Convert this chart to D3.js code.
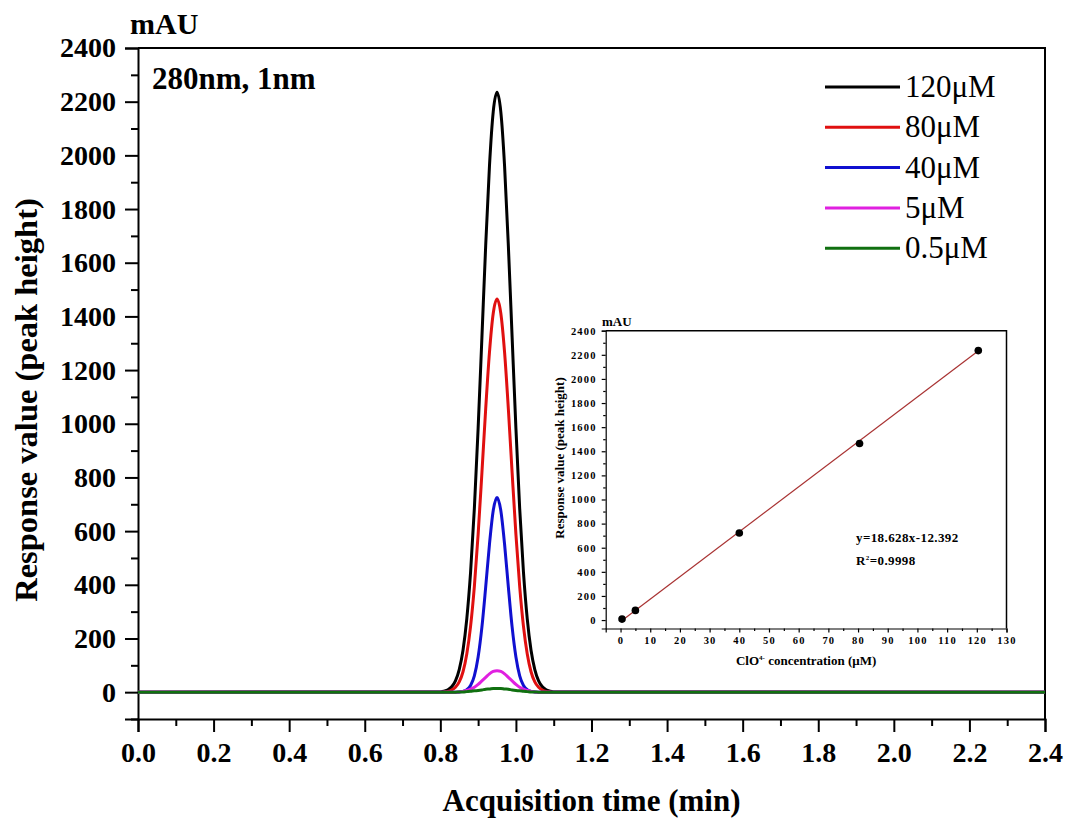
<!DOCTYPE html>
<html>
<head>
<meta charset="utf-8">
<script src="https://cdn.jsdelivr.net/npm/d3@7"></script>
<style>
  body { margin: 0; background: #fff; }
  svg { font-family: "Liberation Serif", "Times New Roman", serif; }
  .tk text { font-weight: bold; }
</style>
</head>
<body>
<svg id="chart" width="1069" height="818"></svg>
<script>
// chromatogram samples (min)
var times = [0, 0.80, 0.81, 0.82, 0.83, 0.84, 0.85, 0.86, 0.87, 0.88, 0.89, 0.90, 0.91, 0.92, 0.93, 0.94,
    0.95, 0.96, 0.97, 0.98, 0.99, 1.00, 1.01, 1.02, 1.03, 1.04, 1.05, 1.06, 1.07, 1.08, 1.09, 1.10, 2.40];

var s120 = [0, 1, 4, 9, 20, 42, 84, 156, 273, 446, 684, 983, 1321, 1663, 1960, 2163,
    2235, 2163, 1960, 1663, 1321, 983, 684, 446, 273, 156, 84, 42, 20, 9, 4, 1, 0];
var s80 = [0, 0, 1, 3, 8, 18, 38, 76, 142, 245, 393, 588, 817, 1055, 1266, 1412,
    1465, 1412, 1266, 1055, 817, 588, 393, 245, 142, 76, 38, 18, 8, 3, 1, 0, 0];
var s40 = [0, 0, 0, 0, 0, 0, 1, 3, 9, 25, 61, 131, 242, 391, 551, 677,
    725, 677, 551, 391, 242, 131, 61, 25, 9, 3, 1, 0, 0, 0, 0, 0, 0];
var s5 = [0, 0, 0, 0, 0, 0, 1, 3, 6, 11, 18, 29, 42, 55, 68, 77,
    80, 77, 68, 55, 42, 29, 18, 11, 6, 3, 1, 0, 0, 0, 0, 0, 0];
var s05 = [0, 0, 0, 0, 0, 0, 1, 1, 2, 3, 5, 6, 8, 11, 12, 14,
    14, 14, 12, 11, 8, 6, 5, 3, 2, 1, 1, 0, 0, 0, 0, 0, 0];

var seriesNames = ["120\u03bcM", "80\u03bcM", "40\u03bcM", "5\u03bcM", "0.5\u03bcM"];
var seriesData = [s120, s80, s40, s5, s05];
var seriesColors = ["#000000", "#e01010", "#1010d0", "#e020e0", "#107010"];

var xTicks = [0, 0.2, 0.4, 0.6, 0.8, 1.0, 1.2, 1.4, 1.6, 1.8, 2.0, 2.2, 2.4];
var xMinor = [0.1, 0.3, 0.5, 0.7, 0.9, 1.1, 1.3, 1.5, 1.7, 1.9, 2.1, 2.3];
var yTicks = [0, 200, 400, 600, 800, 1000, 1200, 1400, 1600, 1800, 2000, 2200, 2400];
var yMinor = [-100, 100, 300, 500, 700, 900, 1100, 1300, 1500, 1700, 1900, 2100, 2300];

// calibration inset
var concs = [0.5, 5, 40, 80.5, 120.5];
var peakHeights = [8, 80, 722, 1465, 2235];
var fitSlope = 18.628, fitIntercept = -12.392;
var fitRange = [1.5, 121];
var insetXTicks = [0, 10, 20, 30, 40, 50, 60, 70, 80, 90, 100, 110, 120, 130];
var insetXMinor = [5, 15, 25, 35, 45, 55, 65, 75, 85, 95, 105, 115, 125];
var insetYTicks = [0, 200, 400, 600, 800, 1000, 1200, 1400, 1600, 1800, 2000, 2200, 2400];
var insetYMinor = [100, 300, 500, 700, 900, 1100, 1300, 1500, 1700, 1900, 2100, 2300];

var svg = d3.select("#chart");
var serif = "Liberation Serif, Times New Roman, serif";

// ---------- main chart ----------
var L = 138, R = 1045, T = 48, B = 719;
var x = d3.scaleLinear().domain([0, 2.4]).range([L, R]);
var y = d3.scaleLinear().domain([-100, 2400]).range([B, T]);

function styleAxis(g, size, width) {
    g.attr("font-family", serif);
    g.select(".domain").attr("stroke", "#000").attr("stroke-width", width);
    g.selectAll(".tick line").attr("stroke", "#000").attr("stroke-width", width);
    g.selectAll("text").attr("font-size", size).attr("fill", "#000");
}

var gx = svg.append("g").attr("class", "tk").attr("transform", "translate(0," + B + ")")
    .call(d3.axisBottom(x).tickValues(xTicks).tickSize(13).tickPadding(10).tickFormat(d3.format(".1f")));
styleAxis(gx, 28, 2);
var gxm = svg.append("g").attr("transform", "translate(0," + B + ")")
    .call(d3.axisBottom(x).tickValues(xMinor).tickSize(7).tickFormat(""));
styleAxis(gxm, 28, 2);
gxm.select(".domain").remove();

var gy = svg.append("g").attr("class", "tk").attr("transform", "translate(" + L + ",0)")
    .call(d3.axisLeft(y).tickValues(yTicks).tickSize(13).tickPadding(9).tickFormat(d3.format("d")));
styleAxis(gy, 28, 2);
var gym = svg.append("g").attr("transform", "translate(" + L + ",0)")
    .call(d3.axisLeft(y).tickValues(yMinor).tickSize(7).tickFormat(""));
styleAxis(gym, 28, 2);
gym.select(".domain").remove();

// top and right frame
svg.append("path")
    .attr("d", "M" + L + "," + T + "H" + R + "V" + B)
    .attr("fill", "none").attr("stroke", "#000").attr("stroke-width", 2);

var line = d3.line()
    .x(function (d, i) { return x(times[i]); })
    .y(function (d) { return y(d); })
    .curve(d3.curveMonotoneX);

seriesData.forEach(function (s, k) {
    svg.append("path")
        .datum(s)
        .attr("d", line)
        .attr("fill", "none")
        .attr("stroke", seriesColors[k])
        .attr("stroke-width", 3);
});

// legend
var legend = svg.append("g");
seriesNames.forEach(function (name, k) {
    var ly = 87 + k * 40.3;
    legend.append("line")
        .attr("x1", 825).attr("x2", 900).attr("y1", ly).attr("y2", ly)
        .attr("stroke", seriesColors[k]).attr("stroke-width", 3);
    legend.append("text")
        .attr("x", 905).attr("y", ly + 10)
        .attr("font-size", 31)
        .text(name);
});

svg.append("text").attr("x", 130).attr("y", 34)
    .attr("font-size", 30).attr("font-weight", "bold").text("mAU");
svg.append("text").attr("x", 152).attr("y", 89)
    .attr("font-size", 31).attr("font-weight", "bold").text("280nm, 1nm");
svg.append("text").attr("x", (L + R) / 2).attr("y", 811)
    .attr("text-anchor", "middle").attr("font-size", 31).attr("font-weight", "bold")
    .text("Acquisition time (min)");
svg.append("text")
    .attr("transform", "translate(37,400) rotate(-90)")
    .attr("text-anchor", "middle").attr("font-size", 32.5).attr("font-weight", "bold")
    .text("Response value (peak height)");

// ---------- inset ----------
var iL = 605.7, iR = 1006.5, iT = 330.7, iB = 628.5;
var ix = d3.scaleLinear().domain([-5, 130]).range([iL, iR]);
var iy = d3.scaleLinear().domain([-70, 2400]).range([iB, iT]);

var igx = svg.append("g").attr("class", "tk").attr("transform", "translate(0," + iB + ")")
    .call(d3.axisBottom(ix).tickValues(insetXTicks).tickSize(4).tickPadding(4).tickFormat(d3.format("d")));
styleAxis(igx, 10.5, 1.2);
igx.selectAll("text").attr("letter-spacing", 1.2);
var igxm = svg.append("g").attr("transform", "translate(0," + iB + ")")
    .call(d3.axisBottom(ix).tickValues(insetXMinor).tickSize(2.5).tickFormat(""));
styleAxis(igxm, 10, 1.2);
igxm.select(".domain").remove();

var igy = svg.append("g").attr("class", "tk").attr("transform", "translate(" + iL + ",0)")
    .call(d3.axisLeft(iy).tickValues(insetYTicks).tickSize(4).tickPadding(5).tickFormat(d3.format("d")));
styleAxis(igy, 10.5, 1.2);
igy.selectAll("text").attr("letter-spacing", 1.2);
var igym = svg.append("g").attr("transform", "translate(" + iL + ",0)")
    .call(d3.axisLeft(iy).tickValues(insetYMinor).tickSize(2.5).tickFormat(""));
styleAxis(igym, 10, 1.2);
igym.select(".domain").remove();

svg.append("path")
    .attr("d", "M" + iL + "," + iT + "H" + iR + "V" + iB)
    .attr("fill", "none").attr("stroke", "#000").attr("stroke-width", 1.5);

svg.append("line")
    .attr("x1", ix(fitRange[0])).attr("y1", iy(fitSlope * fitRange[0] + fitIntercept))
    .attr("x2", ix(fitRange[1])).attr("y2", iy(fitSlope * fitRange[1] + fitIntercept))
    .attr("stroke", "#a83232").attr("stroke-width", 1.2);

svg.selectAll("circle.pt")
    .data(concs)
    .enter()
    .append("circle")
    .attr("class", "pt")
    .attr("cx", function (d) { return ix(d); })
    .attr("cy", function (d, i) { return iy(peakHeights[i]); })
    .attr("r", 3.8)
    .attr("fill", "#000");

svg.append("text").attr("x", 602).attr("y", 326)
    .attr("font-size", 13).attr("font-weight", "bold").text("mAU");
svg.append("text").attr("x", 856).attr("y", 542)
    .attr("font-size", 13).attr("font-weight", "bold").attr("letter-spacing", 0.4)
    .text("y=18.628x-12.392");
var r2 = svg.append("text").attr("x", 856).attr("y", 565)
    .attr("font-size", 13).attr("font-weight", "bold").attr("letter-spacing", 0.4);
r2.append("tspan").text("R");
r2.append("tspan").attr("dy", -5).attr("font-size", 7).text("2");
r2.append("tspan").attr("dy", 5).text("=0.9998");

var xl = svg.append("text").attr("x", (iL + iR) / 2).attr("y", 665)
    .attr("text-anchor", "middle").attr("font-size", 13).attr("font-weight", "bold");
xl.append("tspan").text("ClO");
xl.append("tspan").attr("dy", -5).attr("font-size", 7).text("4-");
xl.append("tspan").attr("dy", 5).text(" concentration (\u03bcM)");

svg.append("text")
    .attr("transform", "translate(564,458) rotate(-90)")
    .attr("text-anchor", "middle").attr("font-size", 13).attr("font-weight", "bold")
    .text("Response value (peak height)");
</script>
</body>
</html>
